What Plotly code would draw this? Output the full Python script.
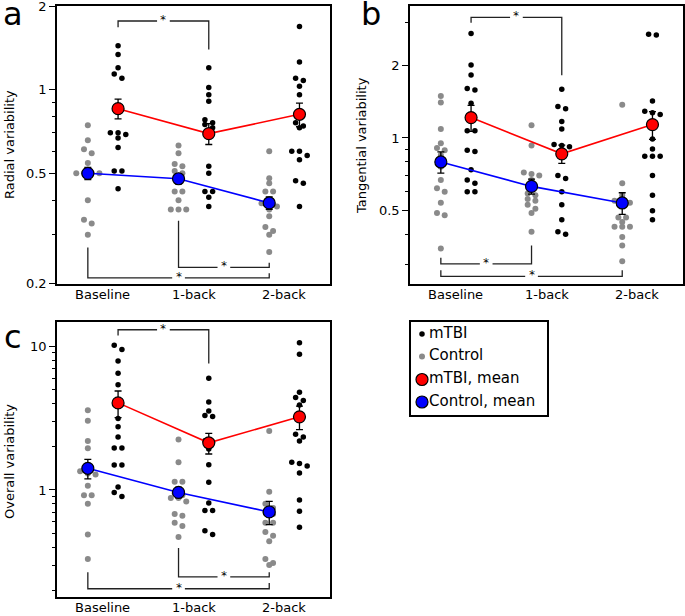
import numpy as np
import plotly.graph_objects as go

W, H = 685, 616
FONT = "DejaVu Sans"

CONDITIONS = ["Baseline", "1-back", "2-back"]

# ---- radial variability (a) ----
RAD_MTBI = [
    [1.44, 1.34, 1.20, 1.14, 1.10, 0.70, 0.70, 0.69, 0.67, 0.62, 0.51, 0.51, 0.44],
    [1.20, 1.02, 0.96, 0.91, 0.78, 0.76, 0.75, 0.73, 0.53, 0.50, 0.43, 0.43, 0.41, 0.38],
    [1.69, 1.26, 1.10, 1.08, 1.03, 0.96, 0.76, 0.74, 0.73, 0.60, 0.60, 0.58, 0.56, 0.47, 0.46, 0.38],
]
RAD_CTRL = [
    [0.745, 0.658, 0.61, 0.59, 0.545, 0.50, 0.50, 0.50, 0.50, 0.40, 0.34, 0.33, 0.30],
    [0.63, 0.59, 0.54, 0.53, 0.51, 0.50, 0.49, 0.43, 0.43, 0.40, 0.37, 0.37, 0.37],
    [0.60, 0.48, 0.46, 0.43, 0.43, 0.39, 0.39, 0.38, 0.37, 0.35, 0.32, 0.31, 0.30, 0.26],
]
RAD_MTBI_MEAN = [0.855, 0.695, 0.816]
RAD_MTBI_SEM = [0.07, 0.06, 0.08]
RAD_CTRL_MEAN = [0.50, 0.478, 0.391]
RAD_CTRL_SEM = [0.025, 0.02, 0.02]

# ---- tangential variability (b) ----
TAN_MTBI = [
    [2.70, 2.00, 1.82, 1.60, 1.58, 1.39, 1.07, 1.07, 0.89, 0.88, 0.74, 0.67, 0.65, 0.60, 0.60],
    [1.59, 1.35, 1.32, 1.17, 1.09, 0.94, 0.93, 0.92, 0.88, 0.70, 0.68, 0.60, 0.53, 0.46, 0.41, 0.40],
    [2.68, 2.66, 1.42, 1.29, 1.27, 1.25, 0.99, 0.90, 0.84, 0.84, 0.84, 0.70, 0.58, 0.50, 0.46],
]
TAN_CTRL = [
    [1.49, 1.40, 1.09, 0.95, 0.91, 0.89, 0.85, 0.76, 0.67, 0.62, 0.60, 0.54, 0.49, 0.48, 0.35],
    [1.13, 0.93, 0.72, 0.71, 0.70, 0.67, 0.64, 0.59, 0.58, 0.56, 0.55, 0.53, 0.51, 0.49, 0.41],
    [1.37, 0.65, 0.58, 0.55, 0.54, 0.54, 0.47, 0.47, 0.45, 0.43, 0.43, 0.43, 0.39, 0.36, 0.31],
]
TAN_MTBI_MEAN = [1.214, 0.86, 1.136]
TAN_MTBI_SEM = [0.15, 0.075, 0.15]
TAN_CTRL_MEAN = [0.796, 0.631, 0.539]
TAN_CTRL_SEM = [0.08, 0.045, 0.055]

# ---- overall variability (c) ----
OV_MTBI = [
    [10.2, 9.5, 7.9, 6.5, 5.4, 3.15, 2.75, 2.34, 1.96, 1.96, 1.49, 1.49, 1.05, 0.96, 0.90],
    [6.0, 4.1, 3.55, 3.3, 3.25, 2.2, 2.17, 1.93, 1.5, 1.13, 0.81, 0.72, 0.72, 0.52, 0.49],
    [10.6, 8.8, 4.8, 4.4, 4.2, 3.9, 2.44, 2.34, 2.19, 1.56, 1.53, 1.47, 1.31, 0.85, 0.71, 0.55],
]
OV_CTRL = [
    [3.59, 3.03, 2.19, 1.95, 1.35, 1.30, 1.28, 1.07, 0.92, 0.92, 0.80, 0.49, 0.33],
    [2.25, 1.56, 1.14, 1.14, 0.95, 0.92, 0.88, 0.88, 0.83, 0.68, 0.66, 0.59, 0.56, 0.47],
    [2.57, 0.97, 0.80, 0.75, 0.70, 0.68, 0.59, 0.59, 0.51, 0.48, 0.44, 0.33, 0.31, 0.30],
]
OV_MTBI_MEAN = [4.04, 2.13, 3.23]
OV_MTBI_SEM = [0.85, 0.35, 0.6]
OV_CTRL_MEAN = [1.415, 0.961, 0.703]
OV_CTRL_SEM = [0.22, 0.08, 0.13]

LEGEND_LABELS = ["mTBI", "Control", "mTBI, mean", "Control, mean"]

# significance brackets: (group left, group right, y left end, y right end, y bar)
# groups: 0..2 control, 3..5 mTBI
RAD_SIG = [(3, 4, 1.68, 1.397, 1.77), (1, 2, 0.337, 0.238, 0.229), (0, 2, 0.27, 0.218, 0.21)]
TAN_SIG = [(3, 4, 2.99, 1.817, 3.15), (0, 1, 0.32, 0.36, 0.302), (0, 2, 0.284, 0.284, 0.268)]
OV_SIG = [(3, 4, 11.9, 7.59, 13.06), (1, 2, 0.394, 0.267, 0.248), (0, 2, 0.267, 0.225, 0.205)]

MTBI_SHIFT = 1 / 3
SWARM_STEP = 0.085
XRANGE = [0.66, 3.67]


def swarm(center, values, px_per_dec, gap_px=4.5):
    v = np.asarray(values, dtype=float)
    ly = np.log10(v) * px_per_dec
    order = np.argsort(-v, kind="stable")
    xs = np.zeros(len(v))
    i = 0
    while i < len(order):
        j = i
        while j + 1 < len(order) and ly[order[i]] - ly[order[j + 1]] < gap_px:
            j += 1
        members = order[i:j + 1]
        k = len(members)
        for m, idx in enumerate(members):
            xs[idx] = center + (m - (k - 1) / 2) * SWARM_STEP
        i = j + 1
    return xs


def dom(px0, px1, horiz):
    if horiz:
        return [px0 / W, px1 / W]
    return [1 - px1 / H, 1 - px0 / H]


PANELS = [
    dict(n="", mtbi=RAD_MTBI, ctrl=RAD_CTRL, mm=RAD_MTBI_MEAN, ms=RAD_MTBI_SEM,
         cm=RAD_CTRL_MEAN, cs=RAD_CTRL_SEM, sig=RAD_SIG,
         xd=(57, 330), yd=(6, 284), yr=(0.2, 2.0),
         major=[0.2, 0.5, 1, 2], minor=[0.3, 0.4, 0.6, 0.7, 0.8, 0.9],
         title="Radial variability", tpos=(9, 145), letter="a", lpos=(13, 14)),
    dict(n="2", mtbi=TAN_MTBI, ctrl=TAN_CTRL, mm=TAN_MTBI_MEAN, ms=TAN_MTBI_SEM,
         cm=TAN_CTRL_MEAN, cs=TAN_CTRL_SEM, sig=TAN_SIG,
         xd=(410, 683), yd=(6, 284), yr=(0.25, 3.5),
         major=[0.5, 1, 2], minor=[0.3, 0.4, 0.6, 0.7, 0.8, 0.9, 3],
         title="Tangential variability", tpos=(361, 145), letter="b", lpos=(371, 14)),
    dict(n="3", mtbi=OV_MTBI, ctrl=OV_CTRL, mm=OV_MTBI_MEAN, ms=OV_MTBI_SEM,
         cm=OV_CTRL_MEAN, cs=OV_CTRL_SEM, sig=OV_SIG,
         xd=(57, 330), yd=(322, 597), yr=(0.18, 14.75),
         major=[1, 10], minor=[0.2, 0.3, 0.4, 0.5, 0.6, 0.7, 0.8, 0.9, 2, 3, 4, 5, 6, 7, 8, 9],
         title="Overall variability", tpos=(9, 462), letter="c", lpos=(13, 337)),
]

fig = go.Figure()
layout = dict(
    width=W, height=H, margin=dict(l=0, r=0, t=0, b=0, autoexpand=False),
    paper_bgcolor="white", plot_bgcolor="white", showlegend=False,
    font=dict(family=FONT, size=13, color="black"),
)
annotations = []

ctrl_x = np.array([1.0, 2.0, 3.0])
mtbi_x = ctrl_x + MTBI_SHIFT
group_x = list(ctrl_x) + list(mtbi_x)

for p in PANELS:
    xa, ya = "x" + p["n"], "y" + p["n"]
    lo, hi = np.log10(p["yr"][0]), np.log10(p["yr"][1])
    ppd = (p["yd"][1] - p["yd"][0]) / (hi - lo)

    # individual subjects
    for groups, xc, col, size in [(p["ctrl"], ctrl_x, "#8a8a8a", 6), (p["mtbi"], mtbi_x, "black", 5.5)]:
        xs, ys = [], []
        for c, vals in zip(xc, groups):
            xs += list(swarm(c, vals, ppd))
            ys += list(vals)
        fig.add_trace(go.Scatter(x=xs, y=ys, mode="markers", xaxis=xa, yaxis=ya,
                                 marker=dict(color=col, size=size, line=dict(width=0)),
                                 hoverinfo="skip"))

    # significance brackets
    for g1, g2, y1, y2, yb in p["sig"]:
        x1, x2 = group_x[g1], group_x[g2]
        mid = (x1 + x2) / 2
        fig.add_trace(go.Scatter(
            x=[x1, x1, mid - 0.07, None, mid + 0.07, x2, x2],
            y=[y1, yb, yb, None, yb, yb, y2],
            mode="lines", xaxis=xa, yaxis=ya,
            line=dict(color="#222222", width=1.3), hoverinfo="skip"))
        annotations.append(dict(text="*", xref=xa, yref=ya, x=mid, y=float(np.log10(yb)),
                                xanchor="center", yanchor="middle", yshift=1, showarrow=False,
                                textangle=0.5,
                                font=dict(family=FONT, size=12, color="black")))

    # means with sem
    for xm, mean, sem, col in [(ctrl_x, p["cm"], p["cs"], "#0000ff"), (mtbi_x, p["mm"], p["ms"], "#ff0000")]:
        fig.add_trace(go.Scatter(x=xm, y=mean, mode="lines", xaxis=xa, yaxis=ya,
                                 line=dict(color=col, width=1.6), hoverinfo="skip"))
        fig.add_trace(go.Scatter(
            x=xm, y=mean, mode="markers", xaxis=xa, yaxis=ya,
            marker=dict(color=col, size=12, line=dict(color="black", width=1.2)),
            error_y=dict(type="data", array=sem, color="black", thickness=1.3, width=3.5),
            hoverinfo="skip"))

    key = p["n"]
    layout["xaxis" + key] = dict(
        domain=dom(*p["xd"], True), range=XRANGE, anchor=ya, automargin=False,
        showgrid=False, zeroline=False, showline=True, mirror=True,
        linecolor="black", linewidth=1.5, ticks="", showticklabels=False,
    )
    layout["yaxis" + key] = dict(
        domain=dom(*p["yd"], False), type="log", range=[lo - 0.001, hi + 0.001], anchor=xa,
        automargin=False, ticklabeloverflow="allow",
        showgrid=False, zeroline=False, showline=True, mirror=True,
        linecolor="black", linewidth=1.5,
        tickmode="array", tickvals=p["major"], ticktext=[f"{v:g}" for v in p["major"]],
        ticks="outside", ticklen=6, tickwidth=1.2, tickcolor="black",
        tickfont=dict(family=FONT, size=13, color="black"),
        minor=dict(tickmode="array", tickvals=p["minor"], ticks="outside",
                   ticklen=3, tickwidth=1.2, tickcolor="black", showgrid=False),
    )
    # condition labels under each panel
    for xt, lab in zip(mtbi_x - MTBI_SHIFT / 2, CONDITIONS):
        annotations.append(dict(text=lab, xref=xa, yref="paper", x=xt,
                                y=1 - (p["yd"][1] + 10) / H, xanchor="center", yanchor="middle",
                                showarrow=False, font=dict(family=FONT, size=13, color="black")))
    annotations.append(dict(text=p["title"], textangle=-90, xref="paper", yref="paper",
                            x=p["tpos"][0] / W, y=1 - p["tpos"][1] / H,
                            xanchor="center", yanchor="middle", showarrow=False,
                            font=dict(family=FONT, size=13, color="black")))
    annotations.append(dict(text=p["letter"], xref="paper", yref="paper",
                            x=p["lpos"][0] / W, y=1 - p["lpos"][1] / H,
                            xanchor="center", yanchor="middle", showarrow=False,
                            font=dict(family=FONT, size=32, color="black")))

# hand-made legend box in its own pixel-scaled axes
leg_y = [12, 34.5, 57.5, 80]
leg_style = [("black", 5.5, 0), ("#8a8a8a", 6, 0), ("#ff0000", 12, 1.2), ("#0000ff", 12, 1.2)]
for yy, (col, size, lw) in zip(leg_y, leg_style):
    fig.add_trace(go.Scatter(x=[11], y=[yy], mode="markers", xaxis="x4", yaxis="y4",
                             marker=dict(color=col, size=size, line=dict(color="black", width=lw)),
                             hoverinfo="skip"))
fig.add_trace(go.Scatter(x=[18] * 4, y=leg_y, mode="text", text=LEGEND_LABELS,
                         textposition="middle right", xaxis="x4", yaxis="y4",
                         textfont=dict(family=FONT, size=15, color="black"), hoverinfo="skip"))
layout["xaxis4"] = dict(domain=dom(411, 547, True), range=[0, 136], anchor="y4", automargin=False,
                        showgrid=False, zeroline=False, showticklabels=False, ticks="",
                        showline=True, mirror=True, linecolor="black", linewidth=1.5)
layout["yaxis4"] = dict(domain=dom(322, 415, False), range=[93, 0], anchor="x4", automargin=False,
                        showgrid=False, zeroline=False, showticklabels=False, ticks="",
                        showline=True, mirror=True, linecolor="black", linewidth=1.5)

layout["annotations"] = annotations
fig.update_layout(**layout)
# the page body has a default 8px margin; drop it so the figure fills the window
fig.write_html("out.html", config={"displayModeBar": False},
               post_script="document.body.style.margin = '0px';")
